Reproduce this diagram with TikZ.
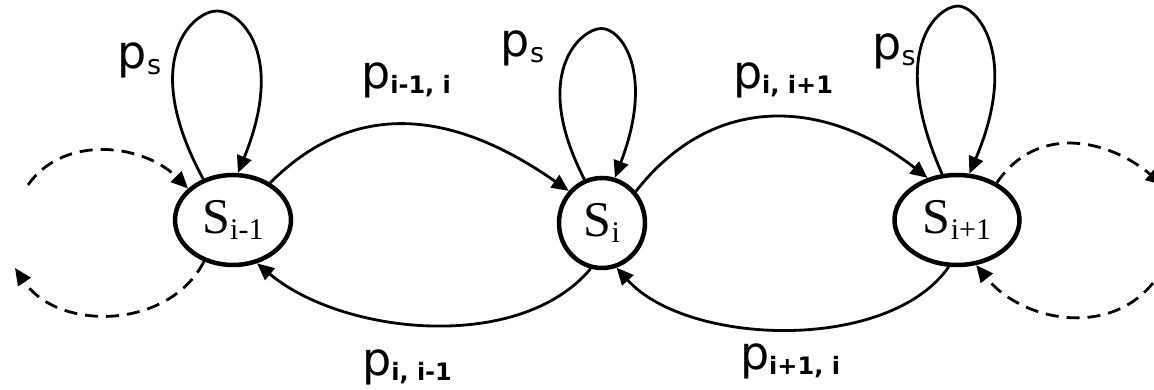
\documentclass[tikz,border=0pt]{standalone}
\usepackage{fontspec}
\setmainfont{Liberation Serif}
\newfontfamily\labfont{DejaVu Sans}
\usetikzlibrary{arrows.meta,shapes.geometric}
\newcommand{\Sn}[1]{S\raisebox{-6pt}{\fontsize{30}{30}\selectfont #1}}
\newcommand{\pr}[1]{p\raisebox{-5pt}{\fontsize{24}{24}\selectfont\bfseries #1}}
\newcommand{\ps}{p\raisebox{-6pt}{\fontsize{27}{27}\selectfont s}}

\begin{document}
\begin{tikzpicture}[
  x=1pt,y=1pt,
  state/.style={ellipse,draw,line width=4.5pt,inner sep=0pt,minimum height=90pt,
    font=\fontsize{50}{50}\selectfont},
  trans/.style={line width=2.8pt,-{Triangle[length=17pt,width=15pt]}},
  dtrans/.style={trans,dash pattern=on 13pt off 8pt},
  lab/.style={inner sep=0pt,font=\labfont\fontsize{46}{46}\selectfont}
]
\useasboundingbox (0,0) rectangle (1154,390);
%% ─── States ──────────────────────────────────────────────────────────────────
\node[state,minimum width=116pt] (Sm) at (233,170) {\Sn{i-1}};
\node[state,minimum width=86pt]  (Si) at (602,167) {\Sn{i}};
\node[state,minimum width=125pt] (Sp) at (957,170) {\Sn{i+1}};
%% ─── Self loops ──────────────────────────────────────────────────────────────
\draw[trans] (Sm.126) .. controls +(-65,120) and +(-24,0) .. ++(14,168)
  .. controls +(24,0) and +(48,118) .. (Sm.84);
\draw[trans] (Si.112) .. controls +(-55,107) and +(-20,0) .. ++(17,151)
  .. controls +(20,0) and +(40,105) .. (Si.74);
\draw[trans] (Sp.108) .. controls +(-55,125) and +(-20,0) .. ++(16,168)
  .. controls +(19,0) and +(50,118) .. (Sp.75);
\foreach \n/\x/\y in {m/139.5/329.5, i/522.5/341.5, p/894/339}
  \node[lab] (ps\n) at (\x,\y) {\ps};
%% ─── Transitions ─────────────────────────────────────────────────────────────
\draw[trans] (Sm.45) to[out=45,in=145,looseness=1.1] (Si.136);
\draw[trans] (Si.256) to[out=230,in=320,looseness=0.85] (Sm.299);
\draw[trans] (Si.43) to[out=52,in=142,looseness=1.12] (Sp.125);
\draw[trans] (Sp.260) to[out=235,in=312,looseness=0.81] (Si.288);
\node[lab] (pmi) at (406,310) {\pr{i-1, i}};
\node[lab] (pip) at (783,310) {\pr{i, i+1}};
\node[lab] (pim) at (407,22.5) {\pr{i, i-1}};
\node[lab] (ppi) at (790,28.5) {\pr{i+1, i}};
%% ─── Dashed ends ─────────────────────────────────────────────────────────────
\coordinate (lt) at (28,205);
\coordinate (lb) at (15,122);
\coordinate (rt) at (1163,205);
\coordinate (rb) at (1153,107);
\draw[dtrans] (lt) to[out=55,in=135] (Sm.145);
\draw[dtrans] (Sm.235) to[out=243,in=304,looseness=1.04] (lb);
\draw[dtrans] (Sp.43) to[out=56,in=140,looseness=1.1] (rt);
\draw[dtrans] (rb) to[out=231,in=309,looseness=1.03] (Sp.293);
\end{tikzpicture}
\end{document}
